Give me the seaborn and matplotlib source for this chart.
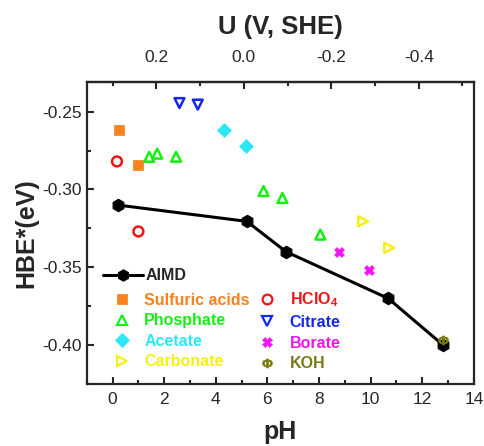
import matplotlib
matplotlib.use("Agg")
import matplotlib.pyplot as plt
from matplotlib.lines import Line2D
from matplotlib.ticker import MultipleLocator, FixedLocator
import pandas as pd
import seaborn as sns

# -------------------------------
# Data
# -------------------------------
aimd_ph = [0.19, 5.2, 6.72, 10.68, 12.81]
aimd_hbe = [-0.310, -0.3205, -0.340, -0.370, -0.400]

sulfuric_ph = [0.26, 0.98]
sulfuric_hbe = [-0.262, -0.284]

hclo4_ph = [0.17, 1.0]
hclo4_hbe = [-0.282, -0.327]

phosphate_ph = [1.42, 1.73, 2.46, 5.85, 6.58, 8.05]
phosphate_hbe = [-0.279, -0.277, -0.279, -0.301, -0.3055, -0.329]

citrate_ph = [2.59, 3.3]
citrate_hbe = [-0.2445, -0.2455]

acetate_ph = [4.33, 5.16]
acetate_hbe = [-0.262, -0.272]

borate_ph = [8.77, 9.93]
borate_hbe = [-0.3405, -0.3515]

carbonate_ph = [9.71, 10.72]
carbonate_hbe = [-0.3205, -0.3375]

koh_ph = [12.81]
koh_hbe = [-0.397]

# name, x, y, marker, colour, filled
series = [
    ("Sulfuric acids", sulfuric_ph, sulfuric_hbe, "s", "#F7821E", True),
    ("HClO$_4$", hclo4_ph, hclo4_hbe, "o", "#F01414", False),
    ("Phosphate", phosphate_ph, phosphate_hbe, "^", "#14F014", False),
    ("Citrate", citrate_ph, citrate_hbe, "v", "#1428E6", False),
    ("Acetate", acetate_ph, acetate_hbe, "D", "#2EE6F5", True),
    ("Borate", borate_ph, borate_hbe, "X", "#F014F0", True),
    ("Carbonate", carbonate_ph, carbonate_hbe, ">", "#F5F014", False),
    ("KOH", koh_ph, koh_hbe, "$\\Phi$", "#7A7A14", True),
]

# -------------------------------
# Style
# -------------------------------
sns.set_style("ticks")
plt.rcParams["font.family"] = ["Liberation Sans", "DejaVu Sans"]
plt.rcParams["mathtext.fontset"] = "custom"
plt.rcParams["mathtext.rm"] = "Liberation Sans:bold"
plt.rcParams["mathtext.it"] = "Liberation Sans:bold"

fig = plt.figure(figsize=(4.85, 4.46), dpi=100)
ax = fig.add_axes([0.179, 0.139, 0.798, 0.677])

# AIMD line
aimd = pd.DataFrame({"pH": aimd_ph, "HBE": aimd_hbe})
sns.lineplot(data=aimd, x="pH", y="HBE", ax=ax, color="black", lw=2.2,
             marker="h", markersize=9, markeredgecolor="black", zorder=3)

for name, xs, ys, mk, col, filled in series:
    df = pd.DataFrame({"pH": xs, "HBE": ys})
    if filled:
        sns.scatterplot(data=df, x="pH", y="HBE", ax=ax, marker=mk,
                        color=col, s=50, edgecolor=col, linewidth=0.5, zorder=4)
    else:
        sns.scatterplot(data=df, x="pH", y="HBE", ax=ax, marker=mk,
                        facecolor="none", edgecolor=col, s=50, linewidth=1.8,
                        zorder=4)

ax.set_xlim(-1, 14)
ax.set_ylim(-0.425, -0.231)
ax.xaxis.set_major_locator(MultipleLocator(2))
ax.xaxis.set_minor_locator(MultipleLocator(1))
ax.yaxis.set_major_locator(MultipleLocator(0.05))
ax.yaxis.set_minor_locator(MultipleLocator(0.025))
ax.yaxis.set_major_formatter(matplotlib.ticker.FormatStrFormatter("%.2f"))

ax.tick_params(which="major", direction="in", length=5, width=1.5,
               labelsize=12.5, top=False, right=False)
ax.tick_params(axis="x", which="major", pad=6)
ax.tick_params(which="minor", direction="in", length=3, width=1.5,
               top=False, right=False)
for s in ax.spines.values():
    s.set_linewidth(1.6)
    s.set_visible(True)

ax.set_xlabel("pH", fontsize=18, fontweight="bold", labelpad=9)
ax.set_ylabel("HBE*(eV)", fontsize=18, fontweight="bold", labelpad=3)

# top axis: potential vs SHE
top = ax.secondary_xaxis("top", functions=(lambda p: 0.3 - 0.059 * p,
                                          lambda u: (0.3 - u) / 0.059))
top.xaxis.set_major_locator(FixedLocator([0.2, 0.0, -0.2, -0.4]))
top.xaxis.set_minor_locator(FixedLocator([0.3, 0.1, -0.1, -0.3, -0.5]))
top.xaxis.set_major_formatter(matplotlib.ticker.FormatStrFormatter("%.1f"))
top.tick_params(which="major", direction="in", length=5, width=1.5,
                labelsize=12.5, pad=12)
top.tick_params(which="minor", direction="in", length=3, width=1.5)
top.spines["top"].set_linewidth(1.6)
top.set_xlabel("U (V, SHE)", fontsize=18.5, fontweight="bold", labelpad=12)

# -------------------------------
# Legends
# -------------------------------
h_aimd = [Line2D([], [], color="black", lw=2.2, marker="h", markersize=8)]
leg1 = ax.legend(h_aimd, ["AIMD"], loc="center left",
                 bbox_to_anchor=(0.041, 0.358), frameon=False,
                 borderpad=0, borderaxespad=0,
                 handlelength=2.5, handletextpad=0.2,
                 prop={"weight": "bold", "size": 11.5})
ax.add_artist(leg1)

handles = []
labels = []
order = [0, 2, 4, 6, 1, 3, 5, 7]
for i in order:
    name, xs, ys, mk, col, filled = series[i]
    handles.append(Line2D([], [], ls="none", marker=mk, markersize=7,
                          color=col, markerfacecolor=col if filled else "none",
                          markeredgecolor=col, markeredgewidth=1.6 if not filled else 0.5))
    labels.append(name)
leg2 = ax.legend(handles, labels, ncol=2, loc="center left",
                 bbox_to_anchor=(0.07, 0.176), frameon=False,
                 borderpad=0, borderaxespad=0,
                 handlelength=1.0, handletextpad=0.9, columnspacing=0.6,
                 labelspacing=0.35, prop={"weight": "bold", "size": 11.5})
for txt, i in zip(leg2.get_texts(), order):
    txt.set_color(series[i][4])

fig.savefig("out.png", dpi=100)
